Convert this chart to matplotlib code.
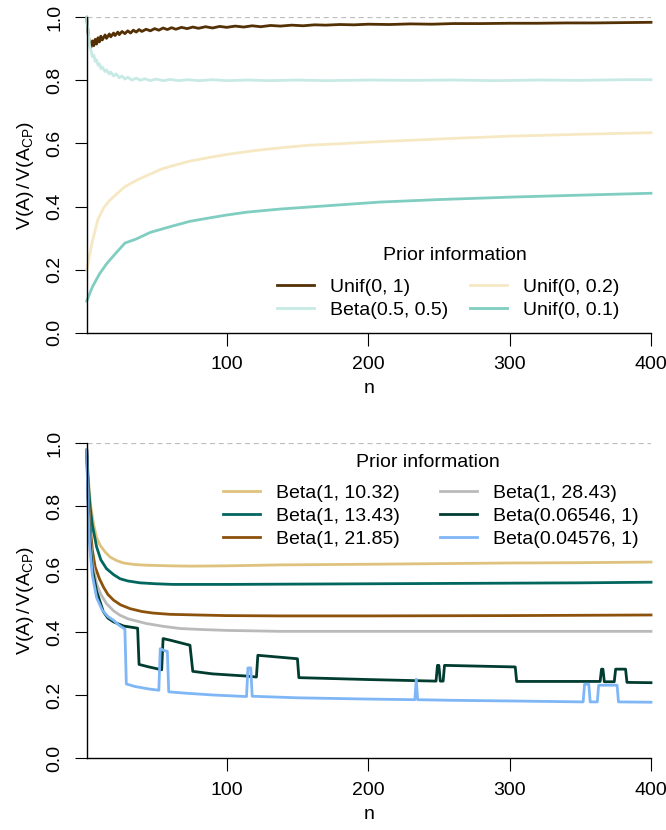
import matplotlib
matplotlib.use('Agg')
import matplotlib.pyplot as plt
import numpy as np

matplotlib.rcParams['font.family'] = ['Liberation Sans', 'DejaVu Sans']
matplotlib.rcParams['mathtext.fontset'] = 'custom'
matplotlib.rcParams['mathtext.rm'] = 'Liberation Sans'
matplotlib.rcParams['mathtext.it'] = 'Liberation Sans'

# ---- top panel: priors on the whole interval / small intervals ----
n_unif1 = [1, 2, 3, 4, 5, 6, 7, 8, 9, 10, 11, 12, 14, 15, 17, 18, 20, 21, 23, 24, 26, 28, 30, 32,
           34, 36, 38, 40, 43, 46, 49, 52, 55, 58, 61, 64, 68, 72, 76, 80, 85, 90, 95, 100, 106,
           112, 118, 124, 131, 138, 146, 154, 162, 170, 180, 190, 200, 215, 230, 245, 260, 280,
           300, 320, 340, 360, 380, 400]
v_unif1 = [1.0, 0.95, 0.915, 0.905, 0.925, 0.91, 0.93, 0.915, 0.935, 0.922, 0.94, 0.928, 0.944,
           0.933, 0.947, 0.938, 0.95, 0.942, 0.953, 0.945, 0.955, 0.948, 0.957, 0.95, 0.959, 0.953,
           0.961, 0.955, 0.962, 0.957, 0.964, 0.959, 0.966, 0.961, 0.967, 0.962, 0.968, 0.964,
           0.969, 0.965, 0.97, 0.966, 0.971, 0.968, 0.972, 0.969, 0.973, 0.97, 0.974, 0.972, 0.975,
           0.973, 0.976, 0.975, 0.977, 0.976, 0.978, 0.977, 0.979, 0.978, 0.98, 0.98, 0.981, 0.981,
           0.982, 0.982, 0.983, 0.984]

n_beta55 = [1, 2, 3, 4, 5, 6, 7, 8, 9, 10, 11, 12, 14, 15, 17, 18, 20, 22, 24, 26, 28, 30, 33, 36,
            39, 42, 46, 50, 55, 60, 66, 72, 80, 90, 100, 115, 130, 150, 170, 200, 230, 260, 290,
            320, 350, 380, 400]
v_beta55 = [1.0, 0.955, 0.91, 0.895, 0.875, 0.88, 0.86, 0.865, 0.848, 0.852, 0.837, 0.842, 0.828,
            0.833, 0.82, 0.826, 0.814, 0.82, 0.808, 0.814, 0.804, 0.81, 0.801, 0.807, 0.8, 0.805,
            0.799, 0.804, 0.799, 0.803, 0.799, 0.802, 0.799, 0.802, 0.799, 0.801, 0.799, 0.801,
            0.799, 0.801, 0.8, 0.801, 0.799, 0.801, 0.8, 0.802, 0.802]

n_unif02 = [1, 5, 9, 13, 17, 21, 28, 37, 46, 54, 64, 74, 87, 100, 121, 140, 157, 180, 200, 230,
            260, 300, 350, 400]
v_unif02 = [0.2, 0.29, 0.36, 0.396, 0.418, 0.435, 0.463, 0.485, 0.503, 0.519, 0.532, 0.544, 0.555,
            0.565, 0.578, 0.587, 0.594, 0.599, 0.604, 0.61, 0.616, 0.623, 0.629, 0.634]

n_unif01 = [1, 5, 10, 15, 20, 28, 36, 46, 60, 74, 88, 100, 114, 138, 173, 208, 250, 302, 350, 400]
v_unif01 = [0.1, 0.145, 0.186, 0.218, 0.244, 0.284, 0.297, 0.318, 0.336, 0.353, 0.364, 0.373,
            0.382, 0.392, 0.403, 0.414, 0.422, 0.43, 0.436, 0.442]

# ---- bottom panel: informative beta priors ----
n_b1032 = [1, 2, 3, 4, 6, 8, 10.5, 14, 17.5, 22, 27, 35, 43, 60, 74, 100, 138, 200, 250, 300, 350, 400]
v_b1032 = [0.978, 0.9, 0.84, 0.795, 0.74, 0.7, 0.676, 0.655, 0.639, 0.628, 0.62, 0.615, 0.613,
           0.611, 0.61, 0.611, 0.614, 0.616, 0.618, 0.62, 0.621, 0.623]

n_b1343 = [1, 2, 3.4, 5, 8, 11, 15, 20, 24.6, 30, 38.7, 50, 62, 100, 150, 200, 250, 300, 350, 400]
v_b1343 = [0.978, 0.88, 0.798, 0.74, 0.671, 0.63, 0.602, 0.583, 0.57, 0.563, 0.557, 0.554, 0.552,
           0.552, 0.553, 0.554, 0.555, 0.556, 0.557, 0.559]

n_b2185 = [1, 2, 3, 5, 7, 10, 12.8, 16, 20, 25, 31.7, 40, 48, 60, 79, 100, 138, 200, 300, 400]
v_b2185 = [0.978, 0.86, 0.76, 0.66, 0.607, 0.57, 0.544, 0.52, 0.502, 0.487, 0.475, 0.466, 0.461,
           0.457, 0.455, 0.453, 0.452, 0.452, 0.453, 0.455]

n_b2843 = [1, 2, 3, 5, 8, 11, 15, 20, 24.6, 30, 43, 55, 67, 81, 100, 138, 200, 300, 400]
v_b2843 = [0.978, 0.84, 0.73, 0.62, 0.554, 0.52, 0.491, 0.468, 0.454, 0.443, 0.428, 0.419, 0.412,
           0.409, 0.406, 0.403, 0.403, 0.403, 0.403]

n_b06546 = [1, 2, 3, 5, 8, 12.8, 16, 20, 27, 37, 38, 45, 54, 55, 60, 74, 76, 90, 114, 121, 122,
            150, 151, 200, 248, 249, 250, 251, 253, 254, 304, 305, 364, 365, 366, 367, 374, 375,
            382, 383, 400]
v_b06546 = [0.978, 0.82, 0.71, 0.6, 0.53, 0.465, 0.445, 0.433, 0.42, 0.413, 0.298, 0.29, 0.281,
            0.38, 0.375, 0.359, 0.276, 0.268, 0.261, 0.258, 0.327, 0.316, 0.256, 0.25, 0.245,
            0.295, 0.295, 0.245, 0.245, 0.295, 0.29, 0.244, 0.244, 0.283, 0.283, 0.243, 0.243,
            0.283, 0.283, 0.241, 0.24]

n_b04576 = [1, 2, 3, 5, 8, 12, 16, 20, 24, 28, 29, 35, 45, 52, 53, 57, 58, 59, 70, 90, 114, 115,
            117, 118, 150, 200, 233, 234, 235, 260, 300, 352, 353, 356, 357, 362, 363, 376, 377, 400]
v_b04576 = [0.978, 0.79, 0.68, 0.58, 0.51, 0.47, 0.45, 0.438, 0.422, 0.41, 0.236, 0.228, 0.22,
            0.216, 0.348, 0.34, 0.34, 0.211, 0.207, 0.201, 0.196, 0.287, 0.287, 0.197, 0.192,
            0.188, 0.186, 0.251, 0.186, 0.184, 0.182, 0.179, 0.235, 0.235, 0.179, 0.179, 0.232,
            0.232, 0.179, 0.178]

top_series = [(n_unif1, v_unif1, 'Unif(0, 1)', '#543005'),
              (n_beta55, v_beta55, 'Beta(0.5, 0.5)', '#c7eae5'),
              (n_unif02, v_unif02, 'Unif(0, 0.2)', '#f6e8c3'),
              (n_unif01, v_unif01, 'Unif(0, 0.1)', '#80cdc1')]
bottom_series = [(n_b1032, v_b1032, 'Beta(1, 10.32)', '#dfc27d'),
                 (n_b1343, v_b1343, 'Beta(1, 13.43)', '#01665e'),
                 (n_b2185, v_b2185, 'Beta(1, 21.85)', '#8c510a'),
                 (n_b2843, v_b2843, 'Beta(1, 28.43)', '#bababa'),
                 (n_b06546, v_b06546, 'Beta(0.06546, 1)', '#003c30'),
                 (n_b04576, v_b04576, 'Beta(0.04576, 1)', '#7fb6f5')]

fs = 14
fig = plt.figure(figsize=(6.66, 8.30), dpi=100)
ax_top = fig.add_axes([0.1302, 0.5992, 0.8473, 0.380])
ax_bot = fig.add_axes([0.1302, 0.0864, 0.8473, 0.3795])


def style_axis(ax):
    ax.set_xlim(1, 400)
    ax.set_ylim(0, 1)
    ax.axhline(1.0, color='#bebebe', lw=0.9, ls=(0, (4, 3)), zorder=0)
    for s in ['top', 'right']:
        ax.spines[s].set_visible(False)
    for s in ['left', 'bottom']:
        ax.spines[s].set_linewidth(1.0)
    ax.set_xticks([100, 200, 300, 400])
    ax.set_yticks([0, 0.2, 0.4, 0.6, 0.8, 1.0])
    ax.set_yticklabels(['0.0', '0.2', '0.4', '0.6', '0.8', '1.0'])
    ax.tick_params(direction='out', length=9, width=0.8, pad=8, labelsize=fs)
    ax.tick_params(axis='y', labelrotation=90)
    for lab in ax.get_yticklabels():
        lab.set_va('center')
    ax.set_xlabel('n', fontsize=fs, labelpad=5)
    ax.set_ylabel(r'V(A)$\,$/$\,$V(A$_{\mathrm{CP}}$)', fontsize=fs, labelpad=7)


for n, v, lab, col in top_series:
    ax_top.plot(n, v, color=col, lw=2.0, label=lab, clip_on=False)
style_axis(ax_top)
ax_top.legend(loc='center', bbox_to_anchor=(0.641, 0.107), ncol=2, frameon=False,
              fontsize=fs, handlelength=1.9, handletextpad=0.82, columnspacing=1.13,
              labelspacing=0.27, borderpad=0, borderaxespad=0)
ax_top.text(0.653, 0.246, 'Prior information', transform=ax_top.transAxes,
            ha='center', va='center', fontsize=fs)

for n, v, lab, col in bottom_series:
    ax_bot.plot(n, v, color=col, lw=2.0, label=lab, clip_on=False)
style_axis(ax_bot)
ax_bot.legend(loc='center', bbox_to_anchor=(0.610, 0.769), ncol=2, frameon=False,
              fontsize=fs, handlelength=1.9, handletextpad=0.82, columnspacing=2.06,
              labelspacing=0.27, borderpad=0, borderaxespad=0)
ax_bot.text(0.605, 0.9405, 'Prior information', transform=ax_bot.transAxes,
            ha='center', va='center', fontsize=fs)

fig.savefig('out.png', dpi=100)
